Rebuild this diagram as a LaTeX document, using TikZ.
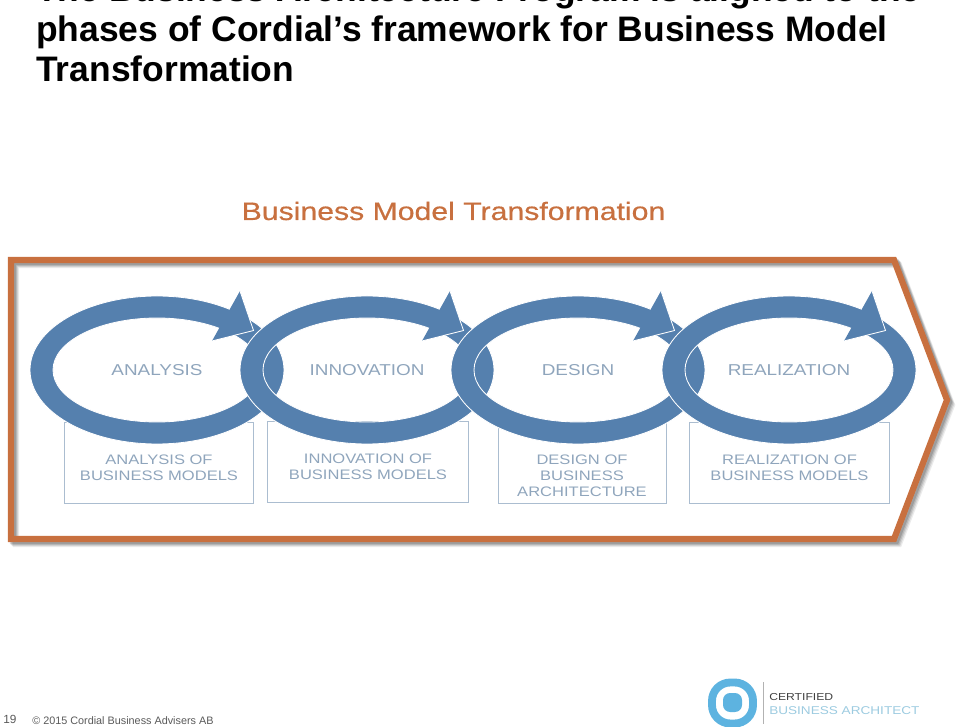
\documentclass[tikz,border=0pt]{standalone}
\usepackage{fontspec}
\setmainfont{Liberation Sans}
\newfontfamily\widefont[FakeStretch=1.2]{Liberation Sans}
\newfontfamily\bannerfont[FakeStretch=1.2,FakeBold=0.5]{Liberation Sans}
\usetikzlibrary{arrows.meta, positioning, calc}
\definecolor{frameorange}{HTML}{C8703F}
\definecolor{ringblue}{HTML}{5580AE}
\definecolor{labelblue}{HTML}{8FA5BC}
\definecolor{boxblue}{HTML}{ABBDD0}
\definecolor{logoblue}{HTML}{5DB3E0}
\definecolor{logotext}{HTML}{9CCBE0}
\tikzset{
  headline/.style={anchor=base west, font=\fontsize{25.2}{28}\selectfont\bfseries, inner sep=0pt},
  phaselabel/.style={text=labelblue, font=\widefont\fontsize{11.2}{12}\selectfont, inner sep=0pt},
  boxlabel/.style={text=labelblue, align=center, inner sep=0pt, font=\widefont\fontsize{9.8}{11.4}\selectfont},
  footer/.style={anchor=base west, inner sep=0pt, text=black!65},
  logolabel/.style={anchor=base west, inner sep=0pt},
}
\begin{document}
\begin{tikzpicture}[x=0.025cm, y=-0.025cm]
  \clip (0,0) rectangle (960,727);
  % Title
  \node[headline] (title1) at (36,2) {The Business Architecture Program is aligned to the};
  \node[headline] (title2) at (36,42) {phases of Cordial’s framework for Business Model};
  \node[headline] (title3) at (36,82) {Transformation};
  \node[text=frameorange, font=\bannerfont\fontsize{17.9}{18}\selectfont, inner sep=0pt] (bmt) at (453.5,211) {Business Model Transformation};
  % Frame with soft shadow
  \foreach \d/\o in {5/0.08, 4/0.1, 3/0.12, 2/0.15}
    \draw[black, opacity=\o, line width=4.4pt, line join=miter]
      (11+\d,260+\d) -- (894+\d,260+\d) -- (947+\d,400+\d) -- (894+\d,539+\d) -- (11+\d,539+\d) -- cycle;
  \draw[frameorange, line width=4.4pt, line join=miter]
    (11,260) -- (894,260) -- (947,400) -- (894,539) -- (11,539) -- cycle;
  % Boxes under the rings
  \foreach \xa/\ya/\xb/\yb in {64/422/253/503, 267/421/468/502, 498/422/666/503, 689/422/889/503}
    \draw[boxblue, semithick] (\xa,\ya) rectangle (\xb,\yb);
  \node[boxlabel] (lab1) at (159,468) {ANALYSIS OF\\BUSINESS MODELS};
  \node[boxlabel] (lab2) at (368,466.5) {INNOVATION OF\\BUSINESS MODELS};
  \node[boxlabel] (lab3) at (582,476) {DESIGN OF\\BUSINESS\\ARCHITECTURE};
  \node[boxlabel] (lab4) at (789.5,468) {REALIZATION OF\\BUSINESS MODELS};
  % Rings, each one over the one before
  \foreach \c/\t in {157/ANALYSIS, 367/INNOVATION, 578/DESIGN, 789/REALIZATION} {
    \fill[ringblue, even odd rule] (\c,370) ellipse [x radius=127, y radius=74]
      (\c,370) ellipse [x radius=104, y radius=52];
    \draw[white, semithick] (\c,370) ellipse [x radius=127, y radius=74];
    \draw[white, semithick] (\c,370) ellipse [x radius=104, y radius=52];
    \fill[ringblue] (\c+83,291) -- (\c+96.5,330.5) -- (\c+55,341) -- cycle;
    \draw[white, semithick] (\c+83,291) -- (\c+96.5,330.5) -- (\c+55,341);
    \node[phaselabel] (\t) at (\c,370) {\t};
  }
  % Logo
  \draw[logoblue, line width=5.6pt, rounded corners=13pt] (712,682.5) rectangle (753,723.5);
  \fill[logoblue, rounded corners=5pt] (723,693) rectangle (742,712);
  \draw[black!30] (763,682) -- (763,724);
  \node[logolabel, text=black!75, font=\widefont\fontsize{7.2}{9}\selectfont] (cert) at (769,700) {CERTIFIED};
  \node[logolabel, text=logotext, font=\widefont\fontsize{8.05}{9}\selectfont] (ba) at (769,714) {BUSINESS ARCHITECT};
  % Footer
  \node[footer, font=\fontsize{8.4}{9}\selectfont] (page) at (3,723) {19};
  \node[footer, font=\fontsize{7.7}{9}\selectfont] (copy) at (32,724) {© 2015 Cordial Business Advisers AB};
\end{tikzpicture}
\end{document}
